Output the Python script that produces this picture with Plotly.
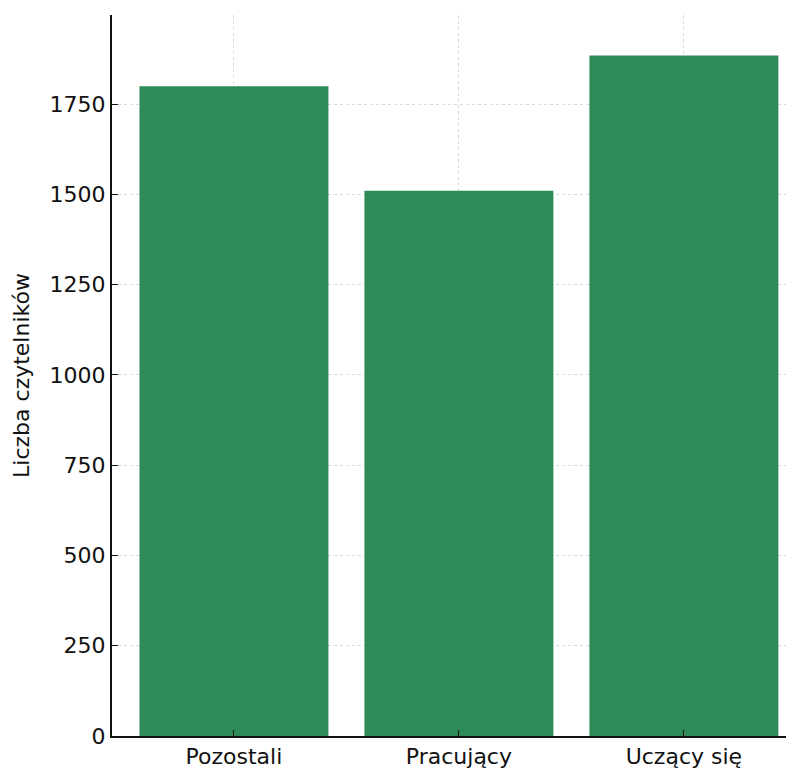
import plotly.graph_objects as go

categories = ["Pozostali", "Pracujący", "Uczący się"]
values = [1800, 1510, 1885]
y_ticks = [0, 250, 500, 750, 1000, 1250, 1500, 1750]

fig = go.Figure(go.Bar(
    x=categories, y=values,
    marker=dict(color="#2e8b57", line=dict(width=0)),
    width=0.84,
))

font = dict(family="DejaVu Sans", size=22, color="#111111")
grid = dict(showgrid=True, gridcolor="rgba(190,190,190,0.6)", griddash="dot", gridwidth=1)

fig.update_layout(
    width=794, height=765,
    margin=dict(l=104, r=0, t=7, b=37),
    paper_bgcolor="white", plot_bgcolor="white",
    showlegend=False,
    font=font,
)
fig.update_xaxes(
    type="category", range=[-0.542, 2.525],
    showline=True, linecolor="#111111", linewidth=2,
    ticks="inside", ticklen=6, tickcolor="#111111",
    tickfont=font, layer="above traces", **grid,
)
fig.update_yaxes(
    range=[0, 1997], tickvals=y_ticks,
    showline=True, linecolor="#111111", linewidth=2,
    ticks="inside", ticklen=6, tickcolor="#111111",
    tickfont=font, layer="above traces", zeroline=False,
    title=dict(text="Liczba czytelników", font=font, standoff=14),
    **grid,
)

fig.write_html("out.html")
